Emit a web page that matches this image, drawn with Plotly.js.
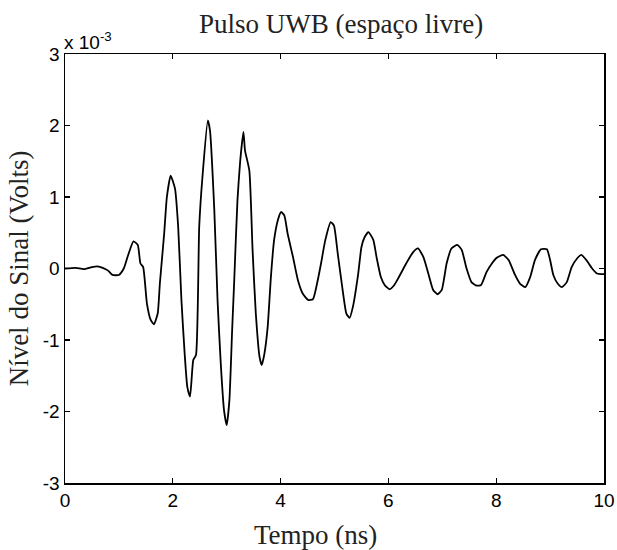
<!DOCTYPE html>
<html>
<head>
<meta charset="utf-8">
<script src="https://cdn.plot.ly/plotly-3.0.1.min.js"></script>
<style>html,body{margin:0;padding:0;background:#fff;}#chart{width:617px;height:550px;}</style>
</head>
<body>
<div id="chart"></div>
<script>
// time in ns
const timeNs = [0.0,0.2,0.35,0.5,0.6,0.7,0.8,0.88,1.0,1.09,1.16,1.27,1.35,1.40,1.45,1.52,1.59,1.65,1.72,1.76,1.84,1.89,1.96,2.04,2.10,2.16,2.22,2.27,2.32,2.38,2.43,2.49,2.55,2.65,2.69,2.77,2.83,2.89,2.95,3.0,3.05,3.10,3.14,3.20,3.25,3.31,3.34,3.42,3.48,3.54,3.61,3.65,3.70,3.76,3.82,3.88,3.95,4.01,4.07,4.13,4.23,4.32,4.41,4.51,4.60,4.69,4.75,4.83,4.93,4.99,5.06,5.16,5.22,5.28,5.34,5.44,5.50,5.56,5.63,5.72,5.78,5.86,5.93,6.02,6.11,6.18,6.33,6.46,6.55,6.65,6.74,6.83,6.91,6.99,7.08,7.17,7.28,7.36,7.45,7.54,7.64,7.72,7.82,7.92,8.01,8.13,8.23,8.35,8.44,8.54,8.63,8.72,8.83,8.94,9.0,9.06,9.14,9.22,9.31,9.40,9.50,9.58,9.67,9.78,9.87,10.0];
// signal level in units of 1e-3 V
const signalmV = [0.0,0.01,-0.01,0.02,0.03,0.01,-0.03,-0.09,-0.09,0.0,0.16,0.38,0.33,0.07,0.02,-0.49,-0.72,-0.78,-0.63,-0.21,0.49,1.0,1.30,1.12,0.58,-0.44,-1.19,-1.66,-1.79,-1.28,-1.21,0.58,1.28,2.07,1.93,0.82,-0.44,-1.33,-1.98,-2.19,-1.84,-0.88,-0.16,0.96,1.5,1.91,1.65,1.37,0.26,-0.63,-1.24,-1.35,-1.19,-0.82,-0.12,0.40,0.68,0.79,0.74,0.49,0.16,-0.16,-0.35,-0.44,-0.43,-0.16,0.07,0.40,0.65,0.60,0.21,-0.35,-0.63,-0.69,-0.54,-0.07,0.30,0.44,0.51,0.40,0.16,-0.12,-0.23,-0.29,-0.23,-0.14,0.07,0.23,0.28,0.16,-0.07,-0.30,-0.36,-0.30,0.07,0.28,0.33,0.26,0.0,-0.19,-0.24,-0.23,-0.05,0.07,0.15,0.19,0.12,-0.09,-0.21,-0.26,-0.12,0.12,0.27,0.27,0.12,-0.09,-0.21,-0.26,-0.19,0.02,0.14,0.19,0.12,0.0,-0.07,-0.08];
const xTicks = [0,2,4,6,8,10];
const yTicks = [-3,-2,-1,0,1,2,3];
const yTickLabels = ["-3","-2","-1","0","1","2","3"];

const sans = "Liberation Sans, Arial, sans-serif";
const serif = "Liberation Serif, Times New Roman, serif";

Plotly.newPlot('chart', [{
  x: timeNs, y: signalmV, type: 'scatter', mode: 'lines',
  line: {color: '#000', width: 1.8, shape: 'spline', smoothing: 0.5},
  hoverinfo: 'skip'
}], {
  width: 617, height: 550,
  margin: {l: 65, r: 13, t: 54, b: 67},
  paper_bgcolor: '#fff', plot_bgcolor: '#fff',
  showlegend: false,
  title: {text: 'Pulso UWB (espaço livre)', font: {family: serif, size: 27, color: '#222'}, x: 0.553, xanchor: 'center', y: 0.958, yanchor: 'middle'},
  xaxis: {
    range: [0, 10], tickvals: xTicks, ticks: 'inside', ticklen: 5, tickwidth: 1.2, tickcolor: '#000',
    showline: true, linecolor: '#000', linewidth: 1.5, mirror: 'ticks', showgrid: false, zeroline: false,
    tickfont: {family: sans, size: 19, color: '#000'}
  },
  yaxis: {
    range: [-3, 3], tickvals: yTicks, ticktext: yTickLabels, ticks: 'inside', ticklen: 5, tickwidth: 1.2, tickcolor: '#000',
    showline: true, linecolor: '#000', linewidth: 1.5, mirror: 'ticks', showgrid: false, zeroline: false,
    tickfont: {family: sans, size: 19, color: '#000'},
    title: {text: 'Nível do Sinal (Volts)', font: {family: serif, size: 27, color: '#222'}, standoff: 6}
  },
  annotations: [{
    text: 'x 10<sup>-3</sup>', xref: 'paper', yref: 'paper', x: 0, y: 1.0, xanchor: 'left', yanchor: 'bottom',
    xshift: -3, yshift: -1,
    showarrow: false, font: {family: sans, size: 19, color: '#000'}
  }, {
    text: 'Tempo (ns)', xref: 'paper', yref: 'paper', x: 0.465, y: -0.121, xanchor: 'center', yanchor: 'middle',
    showarrow: false, font: {family: serif, size: 27, color: '#222'}
  }]
}, {displayModeBar: false, staticPlot: true});
</script>
</body>
</html>
